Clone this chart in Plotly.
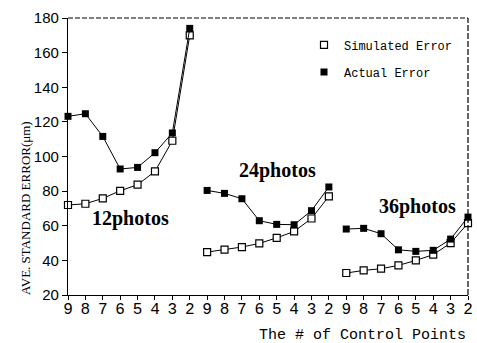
import plotly.graph_objects as go

# ---- data ----
tick_labels = ["9", "8", "7", "6", "5", "4", "3", "2"] * 3
groups = ["12photos", "24photos", "36photos"]
sim_12 = [72.0, 72.7, 75.8, 80.2, 83.7, 91.4, 109.1, 170.0]
act_12 = [123.2, 124.7, 111.6, 92.8, 93.7, 102.2, 113.6, 174.0]
sim_24 = [44.8, 46.2, 47.7, 49.8, 53.0, 56.7, 64.2, 77.0]
act_24 = [80.4, 78.7, 75.6, 62.9, 60.8, 60.6, 68.7, 82.4]
sim_36 = [32.7, 34.2, 35.2, 37.1, 40.0, 43.3, 50.0, 61.5]
act_36 = [58.1, 58.5, 55.4, 46.1, 45.2, 45.8, 52.3, 65.0]
label_pos_x = [3.6, 12.05, 20.1]
label_pos_y = [64, 92, 71]
series_names = ["Simulated Error", "Actual Error"]

sim = [sim_12, sim_24, sim_36]
act = [act_12, act_24, act_36]
xs = list(range(len(tick_labels)))

open_marker = dict(symbol="square", size=7, color="white",
                   line=dict(color="black", width=1.2))
fill_marker = dict(symbol="square", size=7, color="black")

fig = go.Figure()
for g in range(3):
    gx = xs[g * 8:(g + 1) * 8]
    fig.add_trace(go.Scatter(
        x=gx, y=sim[g], mode="lines+markers", name=series_names[0],
        showlegend=False, cliponaxis=False,
        line=dict(color="black", width=1), marker=open_marker))
    fig.add_trace(go.Scatter(
        x=gx, y=act[g], mode="lines+markers", name=series_names[1],
        showlegend=False, cliponaxis=False,
        line=dict(color="black", width=1), marker=fill_marker))

# legend entries (markers only, like the reference)
fig.add_trace(go.Scatter(x=[None], y=[None], mode="markers", name=series_names[0],
                         marker=open_marker, legendgroup="a", showlegend=True))
fig.add_trace(go.Scatter(x=[None], y=[None], mode="markers", name=series_names[1],
                         marker=fill_marker, legendgroup="b", showlegend=True))

for g in range(3):
    fig.add_annotation(x=label_pos_x[g], y=label_pos_y[g], text=groups[g],
                       showarrow=False,
                       font=dict(family="Liberation Serif", size=20, color="black",
                                 weight="bold"))

fig.add_annotation(xref="paper", yref="y", x=-0.13, y=70,
                   text="AVE. STANDARD ERROR(μm)", textangle=-90,
                   showarrow=False,
                   font=dict(family="Liberation Serif", size=13, color="black"))

fig.add_annotation(xref="paper", yref="paper", x=1.0, y=-0.148,
                   xanchor="right", yanchor="middle",
                   text="The # of Control Points", showarrow=False,
                   font=dict(family="Liberation Mono", size=15, color="black"))

# top and right dashed borders
fig.add_shape(type="line", xref="paper", yref="paper", x0=0, x1=1, y0=1, y1=1,
              line=dict(color="black", width=1, dash="5px,2px"))
fig.add_shape(type="line", xref="paper", yref="paper", x0=1, x1=1, y0=0, y1=1,
              line=dict(color="black", width=1.2, dash="6px,2px"))

fig.update_layout(
    width=477, height=343,
    margin=dict(l=68, r=4, t=18, b=48),
    paper_bgcolor="white", plot_bgcolor="white",
    showlegend=True,
    legend=dict(x=0.59, y=0.955, xanchor="left", yanchor="top",
                bgcolor="rgba(0,0,0,0)", traceorder="grouped",
                font=dict(family="Liberation Mono", size=12, color="black"),
                itemwidth=30, tracegroupgap=8),
    xaxis=dict(range=[0, 23], tickmode="array", tickvals=xs, ticktext=tick_labels,
               showgrid=False, zeroline=False, showline=True, linecolor="black",
               linewidth=1, ticks="outside", ticklen=4, tickcolor="black",
               ticklabelstandoff=-5, ticklabeloverflow="allow",
               tickfont=dict(family="Liberation Mono", size=16, color="black")),
    yaxis=dict(range=[20, 180], tickmode="array",
               tickvals=[20, 40, 60, 80, 100, 120, 140, 160, 180],
               showgrid=False, zeroline=False, showline=True, linecolor="black",
               linewidth=1.2, ticks="outside", ticklen=5, tickcolor="black",
               tickfont=dict(family="Liberation Sans", size=15, color="black")),
)

fig.write_html("out.html", config={"displayModeBar": False},
               post_script="document.body.style.margin='0';document.body.style.padding='0';")
